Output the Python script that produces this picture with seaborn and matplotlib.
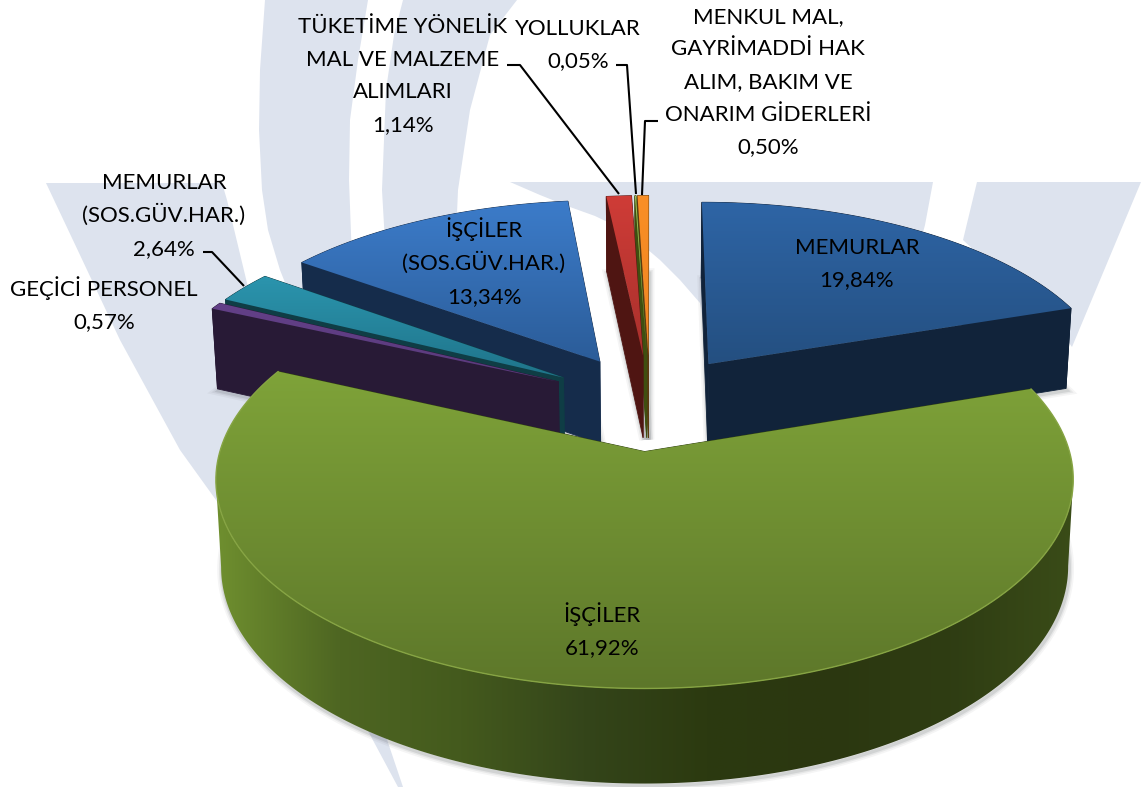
import numpy as np
import pandas as pd
import matplotlib
matplotlib.use("Agg")
import matplotlib.pyplot as plt
from matplotlib.patches import Polygon
import seaborn as sns

# data
categories = ["MEMURLAR", "İŞÇİLER", "GEÇİCİ PERSONEL", "MEMURLAR\n(SOS.GÜV.HAR.)",
              "İŞÇİLER\n(SOS.GÜV.HAR.)", "TÜKETİME YÖNELİK\nMAL VE MALZEME\nALIMLARI",
              "YOLLUKLAR", "MENKUL MAL,\nGAYRİMADDİ HAK\nALIM, BAKIM VE\nONARIM GİDERLERİ"]
shares = [19.84, 61.92, 0.57, 2.64, 13.34, 1.14, 0.05, 0.50]

# colours: top of the face, bottom of the face, side wall
top_hi = ["#2e65a6", "#7fa339", "#634088", "#2b95ae", "#3c7cca", "#cf3c37", "#a4c45a", "#f98f26"]
top_lo = ["#244f80", "#5d772a", "#5a3a7c", "#1f7389", "#2b5c98", "#a8302c", "#8aa840", "#ef8420"]
wall = ["#11233a", "#2f3f12", "#281a36", "#0f3d45", "#152c4b", "#4f1512", "#3f4f10", "#5a3a10"]
# green outer wall, left to right across the picture
green_wall = ["#6f8f2f", "#4e6622", "#445a1d", "#34451a", "#2c3a10", "#2b3710", "#2f3d13", "#3a4c18"]

label_xy = [(857, 262), (602, 630), (104, 304), (164, 214), (484, 262), (403, 74), (578, 43), (768, 80)]

leaders = [[(507, 65), (520, 65), (619, 194)],
           [(616, 65), (627, 65), (636, 194)],
           [(658, 121), (645, 121), (642, 195)],
           [(203, 252), (212, 252), (244, 286)]]

# watermark behind the chart
band_color = "#dde3ee"
bands = [
    [(46, 183), (222, 183), (227, 200), (247, 283), (290, 420), (340, 600), (403, 787), (398, 787),
     (330, 660), (216, 500), (180, 450), (120, 340), (80, 255)],
    [(265, 0), (368, 0), (358, 60), (350, 120), (349, 180), (352, 260), (292, 300), (280, 270),
     (268, 230), (262, 190), (259, 130), (260, 70)],
    [(403, 0), (517, 0), (490, 35), (470, 110), (458, 190), (455, 260), (386, 260), (382, 190),
     (386, 90), (394, 35)],
    [(510, 182), (933, 182), (925, 225), (900, 320), (708, 345), (700, 303), (680, 280), (660, 260),
     (640, 243), (620, 228), (595, 216), (570, 207), (540, 195)],
    [(977, 182), (1141, 182), (1072, 347), (1060, 330), (963, 240)],
]

# projection
cx, cy = 650, 402
rx, ry = 411, 192
persp = 0.13
explode = 0.25
depth = 84
drop_in = 0.012
line_h = 32.6


def project(x, y, z=0.0):
    x, y = np.asarray(x, float), np.asarray(y, float)
    w = 1 / (1 + persp * y)
    sx = cx + rx * x * w * (1 - drop_in * z)
    sy = cy - ry * y * w + depth * z * w ** 0.7
    return sx, sy


def face(ax, px, py, color, z):
    ax.fill(px, py, color=color, lw=0.6, ec=color, zorder=z)


def gradient_fill(ax, px, py, colors, z, horizontal=False):
    poly = Polygon(np.c_[px, py], closed=True, fc="none", ec="none", transform=ax.transData)
    ax.add_patch(poly)
    pal = np.array(sns.blend_palette(colors, 256))
    grad = pal[None, :, :] if horizontal else pal[:, None, :]
    im = ax.imshow(grad, extent=[px.min() - 1, px.max() + 1, py.max() + 1, py.min() - 1],
                   aspect="auto", zorder=z, interpolation="bilinear")
    im.set_clip_path(poly)


sns.set_theme(style="white")
plt.rcParams["font.family"] = ["Lato", "DejaVu Sans"]

df = pd.DataFrame({"cat": categories, "share": shares})
df["end"] = df["share"].cumsum() / df["share"].sum() * 2 * np.pi
df["start"] = df["end"].shift(1, fill_value=0.0)
df["mid"] = (df["start"] + df["end"]) / 2

fig = plt.figure(figsize=(11.41, 7.87), dpi=100)
ax = fig.add_axes([0, 0, 1, 1])
ax.set_xlim(0, 1141)
ax.set_ylim(787, 0)
ax.set_autoscale_on(False)
ax.axis("off")

for b in bands:
    ax.add_patch(Polygon(b, closed=True, fc=band_color, ec="none", zorder=0))

draw_order = [7, 6, 5, 4, 3, 2, 0, 1]
z = 5
for i in draw_order:
    row = df.iloc[i]
    ox, oy = explode * np.sin(row["mid"]), explode * np.cos(row["mid"])
    n = max(3, int(np.degrees(row["end"] - row["start"]) * 1.5))
    t = np.linspace(row["start"], row["end"], n)
    rimx, rimy = ox + np.sin(t), oy + np.cos(t)

    # soft shadow under the solid
    bx, by = project(np.r_[ox, rimx], np.r_[oy, rimy], 1.0)
    for lw, a in [(7, 0.06), (4.5, 0.09), (2.5, 0.14)]:
        ax.fill(bx + 1, by + 2, fc="none", ec="#555a60", lw=lw, alpha=a, zorder=2)

    # side walls, farthest first
    walls = []
    for tt in (row["start"], row["end"]):
        ex, ey = ox + np.sin(tt), oy + np.cos(tt)
        walls.append(((oy + ey) / 2, "r", ex, ey))
    walls.append((rimy.mean(), "a", None, None))
    walls.sort(key=lambda v: -v[0])
    for _, kind, ex, ey in walls:
        z += 1
        if kind == "r":
            a1 = project([ox, ex], [oy, ey], 0.0)
            a2 = project([ex, ox], [ey, oy], 1.0)
        elif i == 1:
            # only the part between the two side extremes faces the viewer
            sx = project(rimx, rimy, 0.0)[0]
            lo, hi = sx.argmax(), sx.argmin() + 1
            a1 = project(rimx[lo:hi], rimy[lo:hi], 0.0)
            a2 = project(rimx[lo:hi][::-1], rimy[lo:hi][::-1], 1.0)
        else:
            a1 = project(rimx, rimy, 0.0)
            a2 = project(rimx[::-1], rimy[::-1], 1.0)
        px, py = np.r_[a1[0], a2[0]], np.r_[a1[1], a2[1]]
        if kind == "a" and i == 1:
            gradient_fill(ax, px, py, green_wall, z, horizontal=True)
        else:
            face(ax, px, py, wall[i], z)

    # top face with a vertical gradient
    z += 1
    tx, ty = project(np.r_[ox, rimx], np.r_[oy, rimy], 0.0)
    gradient_fill(ax, tx, ty, [top_hi[i], top_lo[i]], z)
    if i == 1:
        z += 1
        ax.plot(tx[1:], ty[1:], color="#86a443", lw=1.0, zorder=z)

z += 1
for pts in leaders:
    xs, ys = zip(*pts)
    ax.plot(xs, ys, color="black", lw=1.5, zorder=z, solid_capstyle="butt")

for (x, y), cat, s in zip(label_xy, categories, shares):
    val = f"{s:.2f}".replace(".", ",")
    lines = cat.split("\n") + [val + "%"]
    first = y - (len(lines) - 1) / 2 * line_h
    for k, line in enumerate(lines):
        ax.text(x, first + k * line_h + 8, line, ha="center", va="baseline", fontsize=16,
                color="black", zorder=z + 1)

fig.savefig("out.png", dpi=100)
